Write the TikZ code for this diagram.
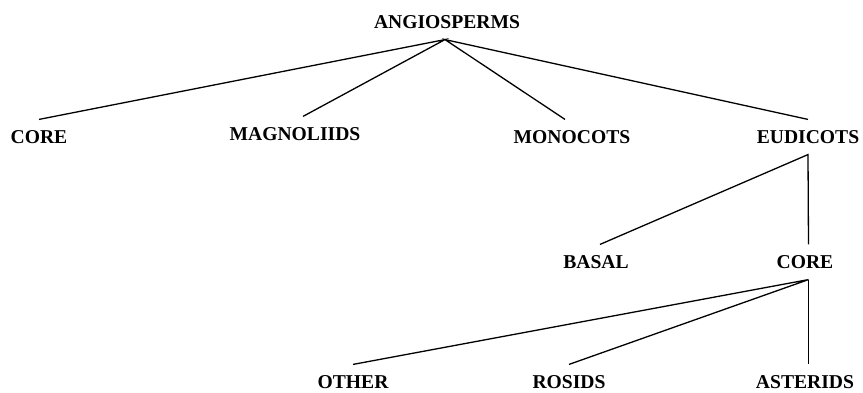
\documentclass[tikz,border=0pt]{standalone}
\usepackage{fontspec}
\setmainfont{Liberation Serif}
\usetikzlibrary{calc}

\begin{document}
\begin{tikzpicture}[x=1pt,y=-1pt,
        taxon/.style={font=\fontsize{19.6}{22}\selectfont\bfseries,inner sep=0pt,outer sep=11pt},
        branch/.style={line width=1.3pt}]
                \useasboundingbox (0,0) rectangle (863,393);

                \node[taxon] (angio) at (447,22) {ANGIOSPERMS};

                \node[taxon] (corebase) at (39,137) {CORE};
                \node[taxon] (magno) at (295,134) {MAGNOLIIDS};
                \node[taxon] (mono) at (572,137) {MONOCOTS};
                \node[taxon] (eudi) at (808,137) {EUDICOTS};

                \node[taxon] (basal) at (596,262) {BASAL};
                \node[taxon] (coreeudi) at (805,262) {CORE};

                \node[taxon] (other) at (353,382) {OTHER};
                \node[taxon] (rosids) at (569,382) {ROSIDS};
                \node[taxon] (aster) at (805,382) {ASTERIDS};

                \draw[branch] (corebase.north) -- ([xshift=-2pt]angio.south) -- ([xshift=8pt]magno.north);
                \draw[branch] ([xshift=-7pt]mono.north) -- ([xshift=-2pt]angio.south) -- (eudi.north);

                \draw[branch] ([xshift=4pt]basal.north) -- (eudi.south) -- ([xshift=3.5pt]coreeudi.north);

                \draw[branch] (other.north) -- ([xshift=3.5pt]coreeudi.south) -- (rosids.north);
                \draw[branch] ([xshift=3.5pt]coreeudi.south) -- ([xshift=3.5pt]aster.north);
            \end{tikzpicture}
\end{document}
